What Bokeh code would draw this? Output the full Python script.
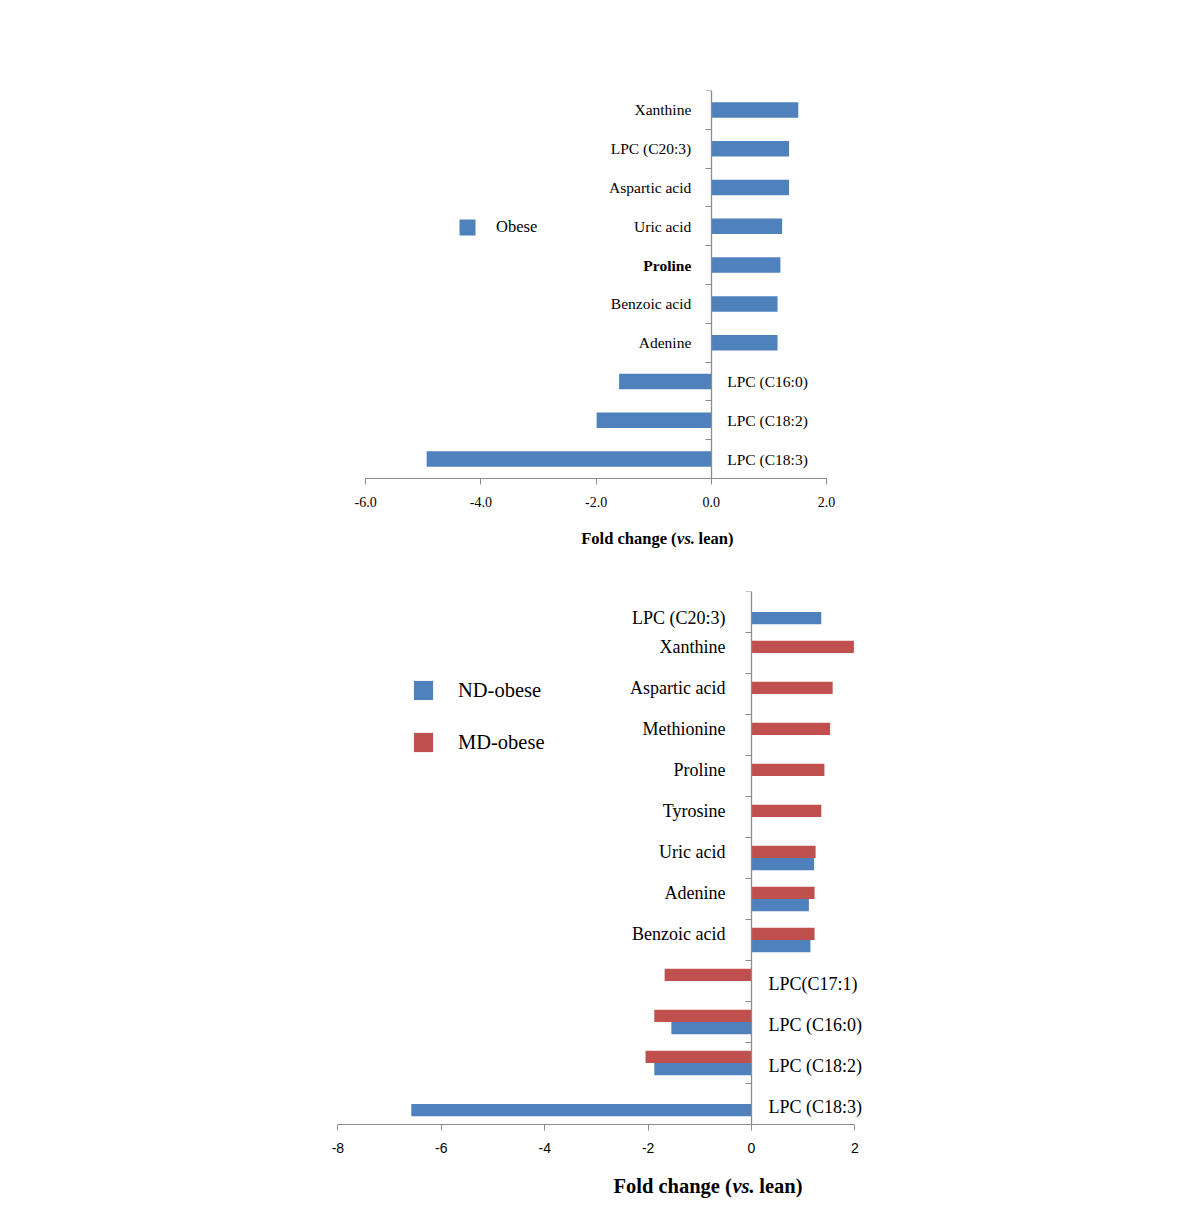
import math
from bokeh.plotting import figure
from bokeh.models import (Range1d, FixedTicker, NumeralTickFormatter,
                          Legend, LegendItem, ColumnDataSource)
from bokeh.layouts import column
from bokeh.embed import file_html
from bokeh.resources import INLINE

# ---------------- data ----------------
# top chart (categories listed from top to bottom)
top_categories = ["Xanthine", "LPC (C20:3)", "Aspartic acid", "Uric acid", "Proline",
                  "Benzoic acid", "Adenine", "LPC (C16:0)", "LPC (C18:2)", "LPC (C18:3)"]
top_obese = [1.51, 1.35, 1.35, 1.23, 1.20, 1.15, 1.15, -1.60, -1.99, -4.94]
top_ticks = [-6, -4, -2, 0, 2]

# bottom chart (categories listed from top to bottom)
bottom_categories = ["LPC (C20:3)", "Xanthine", "Aspartic acid", "Methionine", "Proline",
                     "Tyrosine", "Uric acid", "Adenine", "Benzoic acid", "LPC(C17:1)",
                     "LPC (C16:0)", "LPC (C18:2)", "LPC (C18:3)"]
nan = float("nan")
nd_obese = [1.35, nan, nan, nan, nan, nan, 1.21, 1.11, 1.14, nan, -1.55, -1.88, -6.58]
md_obese = [nan, 1.98, 1.57, 1.52, 1.41, 1.35, 1.24, 1.22, 1.22, -1.68, -1.88, -2.05, nan]
bottom_ticks = [-8, -6, -4, -2, 0, 2]

x_title = ["Fold change (", "vs.", "lean)"]

# ---------------- style / layout (pixels) ----------------
BLUE = "#4F81BD"
RED = "#C0504D"
AXIS = "#8C8C8C"
SERIF = "Liberation Serif"
SANS = "Liberation Sans"
TOP_BOLD_LABELS = {"Proline"}
W = 1174
FRAME_L, FRAME_R = 320, 890          # common frame, left/right pixel edges


def extend(d0, d1, p0, p1, q0, q1):
    """value range that puts d0 at pixel p0 and d1 at pixel p1, spanning pixels q0..q1"""
    k = (d1 - d0) / (p1 - p0)
    return d0 + (q0 - p0) * k, d0 + (q1 - p0) * k


def make_fig(height, top_px, bot_px, xr, yr):
    p = figure(width=W, height=height, x_range=Range1d(*xr), y_range=Range1d(*yr),
               output_backend="svg", toolbar_location=None,
               min_border_left=FRAME_L, min_border_right=W - FRAME_R,
               min_border_top=top_px, min_border_bottom=bot_px)
    p.outline_line_color = None
    p.grid.visible = False
    p.background_fill_color = "white"
    return p


def style_axes(p, n, ticks, fmt, tick_font, tick_size):
    xa = p.xaxis[0]
    xa.fixed_location = 0
    xa.ticker = FixedTicker(ticks=ticks)
    xa.bounds = (min(ticks), max(ticks))
    xa.formatter = NumeralTickFormatter(format=fmt)
    xa.major_label_text_font = tick_font
    xa.major_label_text_font_size = tick_size
    xa.major_label_text_color = "black"
    xa.major_label_standoff = 12
    xa.major_tick_out = 6
    xa.major_tick_in = 0
    xa.minor_tick_line_color = None
    xa.axis_line_color = AXIS
    xa.major_tick_line_color = AXIS
    ya = p.yaxis[0]
    ya.fixed_location = 0
    ya.bounds = (0, n)
    ya.ticker = FixedTicker(ticks=list(range(n + 1)))
    ya.major_label_overrides = {i: "" for i in range(n + 1)}
    ya.major_label_text_font_size = "1px"
    ya.major_tick_out = 6
    ya.major_tick_in = 0
    ya.minor_tick_line_color = None
    ya.axis_line_color = AXIS
    ya.major_tick_line_color = AXIS
    ya.axis_line_width = 1.3


def add_title(p, xo, vs_w, space_w, yo, size):
    offsets = [xo, xo + 0.5, xo + vs_w + space_w]
    aligns = ["right", "left", "left"]
    styles = ["bold", "bold italic", "bold"]
    for txt, off, al, st in zip(x_title, offsets, aligns, styles):
        s = ColumnDataSource(dict(x=[0], y=[0], text=[txt]))
        p.text(x="x", y="y", text="text", source=s, x_offset=off, y_offset=yo,
               text_align=al, text_baseline="middle", text_font=SERIF,
               text_font_size=size, text_font_style=st, text_color="black")


# ---------------- top chart ----------------
n1 = len(top_categories)
y1 = [n1 - i - 0.5 for i in range(n1)]
H1, T1, B1 = 570, 90, 4                      # figure height, frame top / bottom borders
xr1 = extend(-6, 2, 365.1, 826.0, FRAME_L, FRAME_R)
yr1 = extend(n1, 0, T1, 478, H1 - B1, T1)
p1 = make_fig(H1, T1, B1, xr1, yr1)
style_axes(p1, n1, top_ticks, "0.0", SERIF, "14px")

src1 = ColumnDataSource(dict(y=y1, v=top_obese))
r1 = p1.hbar(y="y", left=0, right="v", height=0.4, source=src1,
             fill_color=BLUE, line_color=None)

lab1 = ColumnDataSource(dict(
    x=[0] * n1, y=y1, text=top_categories,
    align=["right" if v > 0 else "left" for v in top_obese],
    xo=[-20 if v > 0 else 16 for v in top_obese],
    fs=["bold" if c in TOP_BOLD_LABELS else "normal" for c in top_categories]))
p1.text(x="x", y="y", text="text", source=lab1, text_align="align", x_offset="xo",
        text_font_style="fs", text_baseline="middle", text_font=SERIF,
        text_font_size="15.5px", text_color="black")

leg1 = Legend(items=[LegendItem(label="Obese", renderers=[r1])], location=(137, 329),
              glyph_width=20, glyph_height=20, label_height=20, label_standoff=19,
              padding=0, margin=0, border_line_color=None, background_fill_alpha=0,
              label_text_font=SERIF, label_text_font_size="16.5px", label_text_color="black")
p1.add_layout(leg1)

add_title(p1, -34.7, 17.9, 4.1, 59.7, "16.5px")

# ---------------- bottom chart ----------------
n2 = len(bottom_categories)
y2 = [n2 - i - 0.5 for i in range(n2)]
H2, T2, B2 = 635, 21, 4
xr2 = extend(-8, 2, 337.4, 854.4, FRAME_L, FRAME_R)
yr2 = extend(n2, 0, T2, 1124 - 570, H2 - B2, T2)
p2 = make_fig(H2, T2, B2, xr2, yr2)
style_axes(p2, n2, bottom_ticks, "0", SANS, "14px")

src_nd = ColumnDataSource(dict(y=[y - 0.15 for y in y2], v=nd_obese))
src_md = ColumnDataSource(dict(y=[y + 0.15 for y in y2], v=md_obese))
r_nd = p2.hbar(y="y", left=0, right="v", height=0.3, source=src_nd,
               fill_color=BLUE, line_color=None)
r_md = p2.hbar(y="y", left=0, right="v", height=0.3, source=src_md,
               fill_color=RED, line_color=None)

lab_y, lab_al, lab_xo, lab_yo = [], [], [], []
for yc, a, b in zip(y2, nd_obese, md_obese):
    val = b if not math.isnan(b) else a
    if val > 0:
        lab_y.append(yc + 0.15 if not math.isnan(b) else yc - 0.15)
        lab_al.append("right")
        lab_xo.append(-26)
        lab_yo.append(0)
    else:
        lab_y.append(yc)
        lab_al.append("left")
        lab_xo.append(17)
        lab_yo.append(3)
lab2 = ColumnDataSource(dict(x=[0] * n2, y=lab_y, text=bottom_categories,
                             align=lab_al, xo=lab_xo, yo=lab_yo))
p2.text(x="x", y="y", text="text", source=lab2, text_align="align", x_offset="xo",
        y_offset="yo", text_baseline="middle", text_font=SERIF,
        text_font_size="18px", text_color="black")

leg2 = Legend(items=[LegendItem(label="ND-obese", renderers=[r_nd]),
                     LegendItem(label="MD-obese", renderers=[r_md])],
              location=(91, 447), spacing=28,
              glyph_width=24, glyph_height=24, label_height=24, label_standoff=23,
              padding=0, margin=0, border_line_color=None, background_fill_alpha=0,
              label_text_font=SERIF, label_text_font_size="20.5px", label_text_color="black")
p2.add_layout(leg2)

add_title(p2, -19.6, 22.2, 5.1, 61, "20.5px")

layout = column(p1, p2, spacing=0)
open("out.html", "w").write(file_html(layout, INLINE))
